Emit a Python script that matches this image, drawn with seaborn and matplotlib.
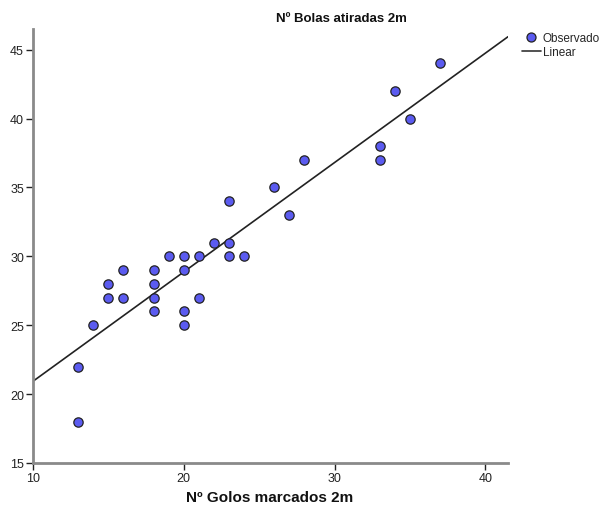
import numpy as np
import pandas as pd
import matplotlib
matplotlib.use("Agg")
import matplotlib.pyplot as plt
import seaborn as sns
from matplotlib.lines import Line2D

golos = [13, 13, 14, 15, 15, 16, 16, 18, 18, 18, 18, 19, 20, 20, 20, 20, 21, 21,
         22, 23, 23, 23, 24, 26, 27, 28, 33, 33, 34, 35, 37]
bolas = [22, 18, 25, 28, 27, 29, 27, 29, 28, 27, 26, 30, 30, 29, 26, 25, 30, 27,
         31, 34, 31, 30, 30, 35, 33, 37, 38, 37, 42, 40, 44]
x_ticks = [10, 20, 30, 40]
y_ticks = [15, 20, 25, 30, 35, 40, 45]

sns.set_theme(style="white")
plt.rcParams['font.family'] = ['Liberation Sans', 'DejaVu Sans']

df = pd.DataFrame({"x": golos, "y": bolas})

fig = plt.figure(figsize=(6.03, 5.10), dpi=100)
ax = fig.add_axes([33/603, 1-464/510, (508-33)/603, (464-30)/510])

xlim = (10, 41.5)
ylim = (15, 46.5)

coef = np.polyfit(df["x"], df["y"], 1)
lx = np.array(xlim)
line_df = pd.DataFrame({"x": lx, "y": np.polyval(coef, lx)})
sns.lineplot(data=line_df, x="x", y="y", ax=ax, color="#222222", linewidth=1.2, zorder=2)

sns.scatterplot(data=df, x="x", y="y", ax=ax, s=45, color="#5b5bf0",
                edgecolor="#222222", linewidth=0.9, zorder=3)

ax.set_xlim(*xlim)
ax.set_ylim(*ylim)
ax.set_xticks(x_ticks)
ax.set_yticks(y_ticks)
ax.tick_params(axis="both", labelsize=9, colors="#222222", direction="out",
               length=5, width=1, pad=1.5)
ax.tick_params(axis="both", left=True, bottom=True)
for sp in ["top", "right"]:
    ax.spines[sp].set_visible(False)
for sp in ["left", "bottom"]:
    ax.spines[sp].set_color("#8a8a8a")
    ax.spines[sp].set_linewidth(2.0)
ax.set_xlabel("")
ax.set_ylabel("")

fig.text(341/603, 1-19/510, "Nº Bolas atiradas 2m", ha="center", va="center",
         fontsize=9.5, fontweight="bold", color="#111111")
fig.text(270/603, 1-498/510, "Nº Golos marcados 2m", ha="center", va="center",
         fontsize=11, fontweight="bold", color="#111111")

handles = [
    Line2D([], [], marker="o", linestyle="none", markersize=6.5,
           markerfacecolor="#5b5bf0", markeredgecolor="#222222", markeredgewidth=0.9),
    Line2D([], [], color="#333333", linewidth=1.2),
]
fig.legend(handles, ["Observado", "Linear"], loc="upper left",
           bbox_to_anchor=(522/603, 1-33/510), frameon=False, fontsize=8.5,
           handlelength=1.6, handletextpad=0.15, labelspacing=0.2,
           borderaxespad=0, borderpad=0)

fig.savefig("out.png", dpi=100)
